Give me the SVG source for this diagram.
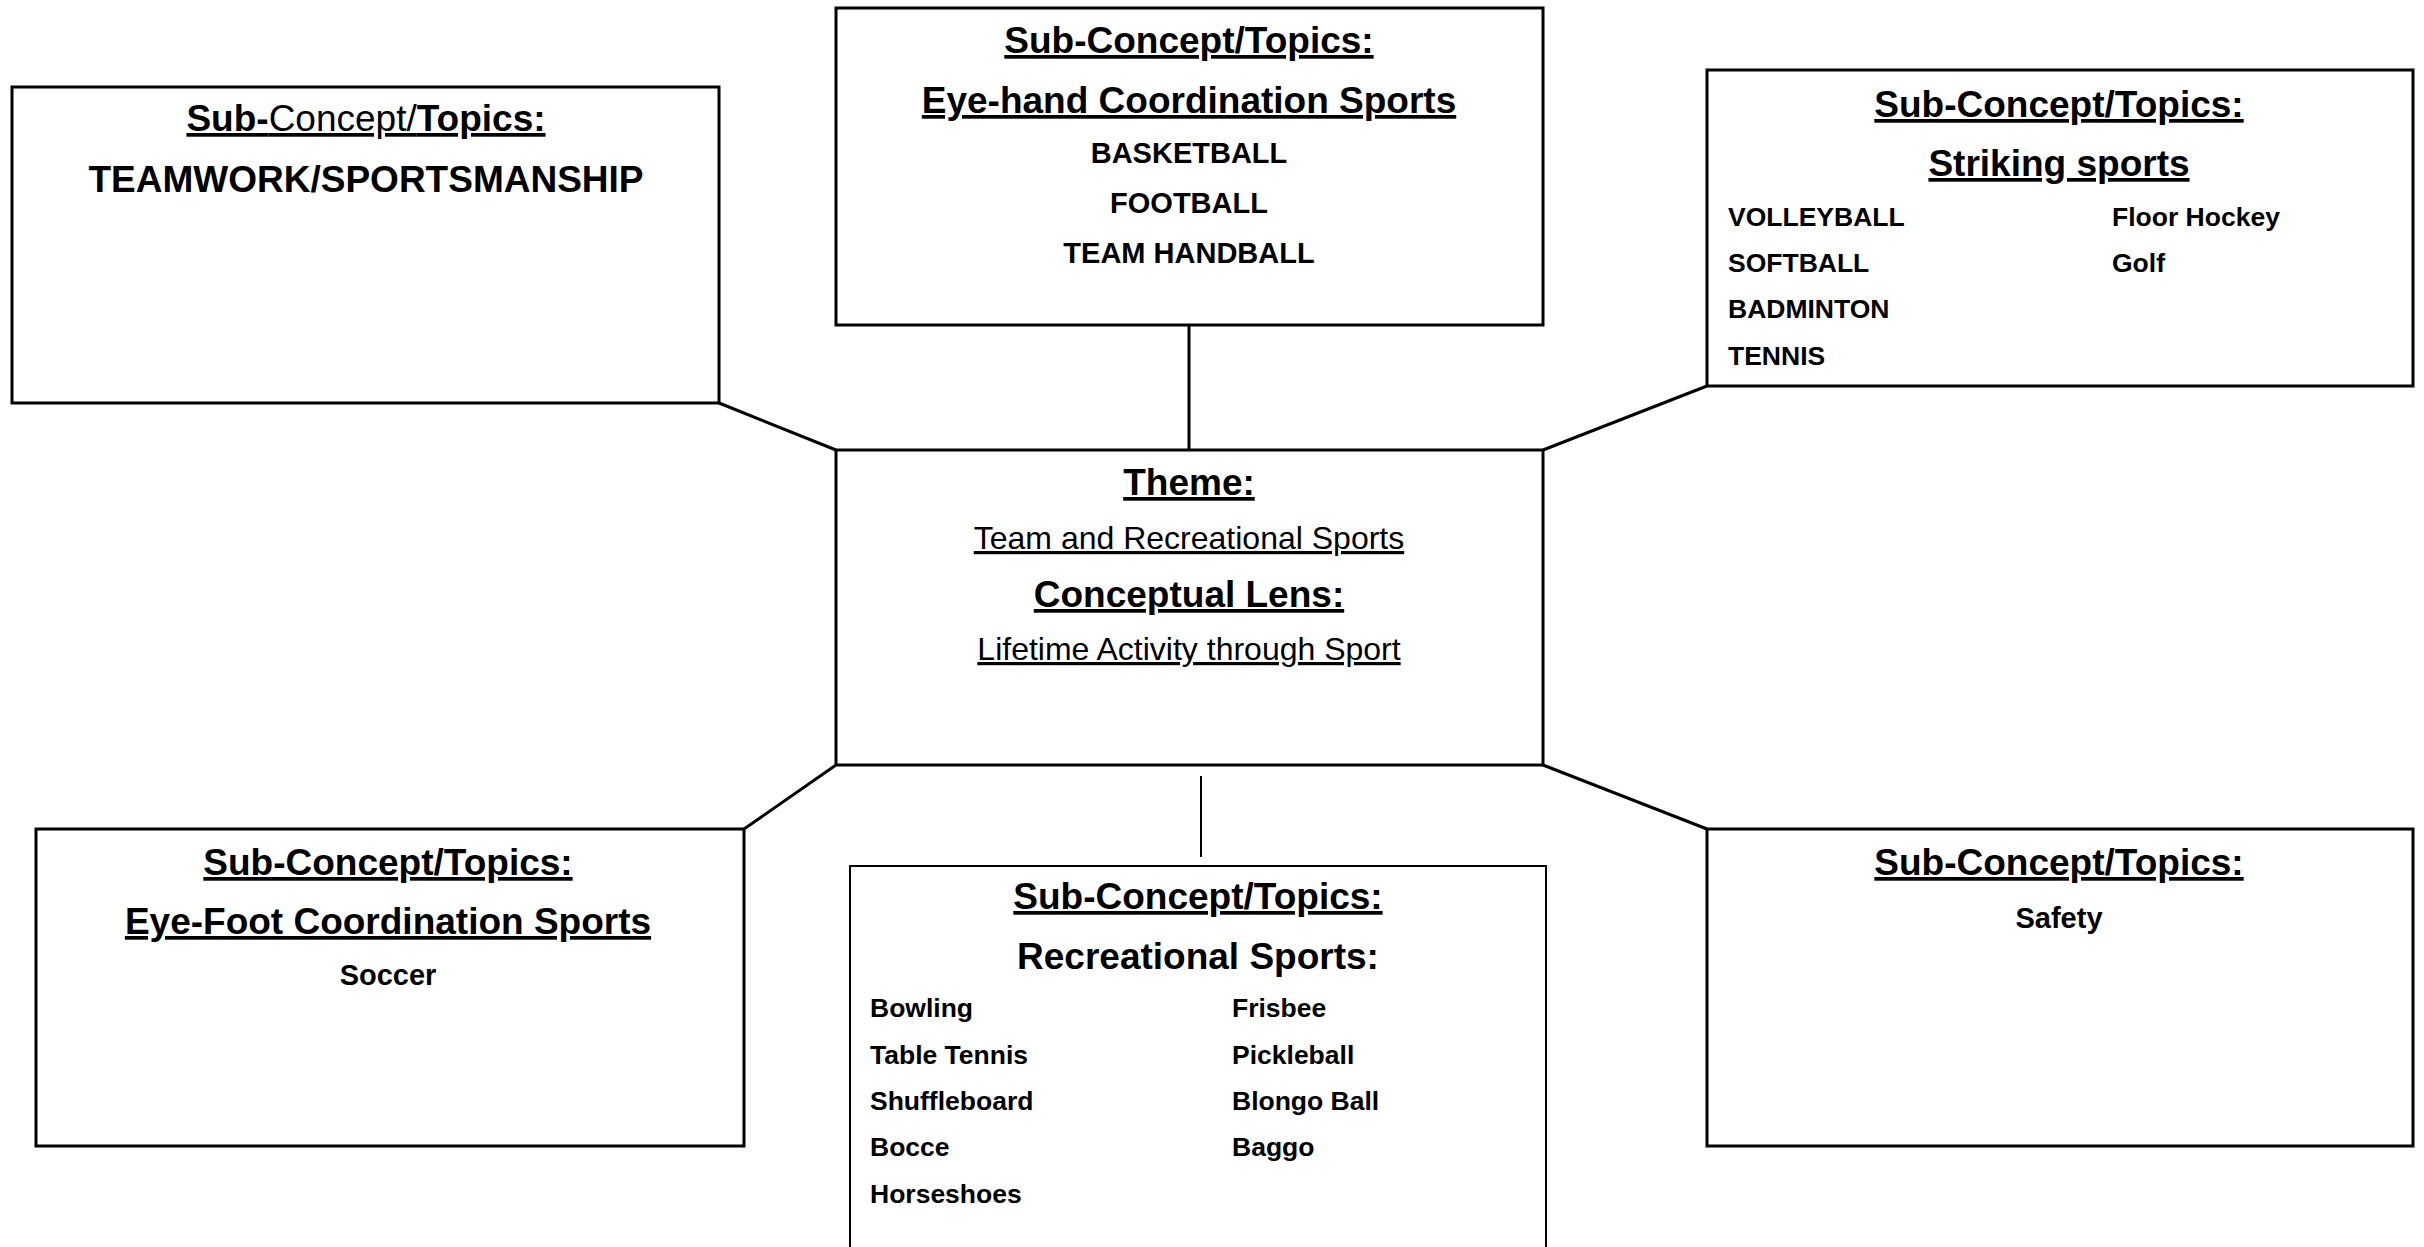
<svg xmlns="http://www.w3.org/2000/svg" width="2424" height="1247" viewBox="0 0 2424 1247">
<style>
text{font-family:"Liberation Sans",Arial,sans-serif;fill:#000}
.box{fill:#fff;stroke:#000;stroke-width:3}
.thin{stroke-width:2}
.h{font-size:37px;font-weight:bold;text-anchor:middle}
.u{text-decoration:underline}
.c{font-size:29px;font-weight:bold;text-anchor:middle}
.li{font-size:26.5px;font-weight:bold}
.r{font-size:32px;text-anchor:middle;text-decoration:underline}
.con{stroke:#000;stroke-width:3;fill:none}
</style>
<rect width="2424" height="1247" fill="#fff"/>
<g id="connectors">
<line class="con" x1="719" y1="403" x2="836" y2="450"/>
<line class="con" x1="1189" y1="325" x2="1189" y2="450"/>
<line class="con" x1="1707" y1="386" x2="1543" y2="450"/>
<line class="con" x1="836" y1="765" x2="744" y2="829"/>
<line class="con" x1="1543" y1="765" x2="1707" y2="829"/>
<line class="con" style="stroke-width:2" x1="1201" y1="776" x2="1201" y2="857"/>
</g>
<g id="teamwork">
<rect class="box" x="12" y="87" width="707" height="316"/>
<text class="h u" x="366" y="131"><tspan>Sub-</tspan><tspan font-weight="normal">Concept/</tspan><tspan>Topics:</tspan></text>
<text class="h" x="366" y="192">TEAMWORK/SPORTSMANSHIP</text>
</g>
<g id="eye-hand">
<rect class="box" x="836" y="8" width="707" height="317"/>
<text class="h u" x="1189" y="53">Sub-Concept/Topics:</text>
<text class="h u" x="1189" y="113">Eye-hand Coordination Sports</text>
<text class="c" x="1189" y="163">BASKETBALL</text>
<text class="c" x="1189" y="213">FOOTBALL</text>
<text class="c" x="1189" y="263">TEAM HANDBALL</text>
</g>
<g id="striking">
<rect class="box" x="1707" y="70" width="706" height="316"/>
<text class="h u" x="2059" y="117">Sub-Concept/Topics:</text>
<text class="h u" x="2059" y="176">Striking sports</text>
<text class="li" x="1728" y="226">VOLLEYBALL</text>
<text class="li" x="1728" y="272">SOFTBALL</text>
<text class="li" x="1728" y="318">BADMINTON</text>
<text class="li" x="1728" y="365">TENNIS</text>
<text class="li" x="2112" y="226">Floor Hockey</text>
<text class="li" x="2112" y="272">Golf</text>
</g>
<g id="theme">
<rect class="box" x="836" y="450" width="707" height="315"/>
<text class="h u" x="1189" y="495">Theme:</text>
<text class="r" x="1189" y="549">Team and Recreational Sports</text>
<text class="h u" x="1189" y="607">Conceptual Lens:</text>
<text class="r" x="1189" y="660">Lifetime Activity through Sport</text>
</g>
<g id="eye-foot">
<rect class="box" x="36" y="829" width="708" height="317"/>
<text class="h u" x="388" y="875">Sub-Concept/Topics:</text>
<text class="h u" x="388" y="934">Eye-Foot Coordination Sports</text>
<text class="c" x="388" y="985">Soccer</text>
</g>
<g id="recreational">
<rect class="box thin" x="850" y="866" width="696" height="400"/>
<text class="h u" x="1198" y="909">Sub-Concept/Topics:</text>
<text class="h" x="1198" y="969">Recreational Sports:</text>
<text class="li" x="870" y="1017">Bowling</text>
<text class="li" x="870" y="1064">Table Tennis</text>
<text class="li" x="870" y="1110">Shuffleboard</text>
<text class="li" x="870" y="1156">Bocce</text>
<text class="li" x="870" y="1203">Horseshoes</text>
<text class="li" x="1232" y="1017">Frisbee</text>
<text class="li" x="1232" y="1064">Pickleball</text>
<text class="li" x="1232" y="1110">Blongo Ball</text>
<text class="li" x="1232" y="1156">Baggo</text>
</g>
<g id="safety">
<rect class="box" x="1707" y="829" width="706" height="317"/>
<text class="h u" x="2059" y="875">Sub-Concept/Topics:</text>
<text class="c" x="2059" y="928">Safety</text>
</g>
</svg>
